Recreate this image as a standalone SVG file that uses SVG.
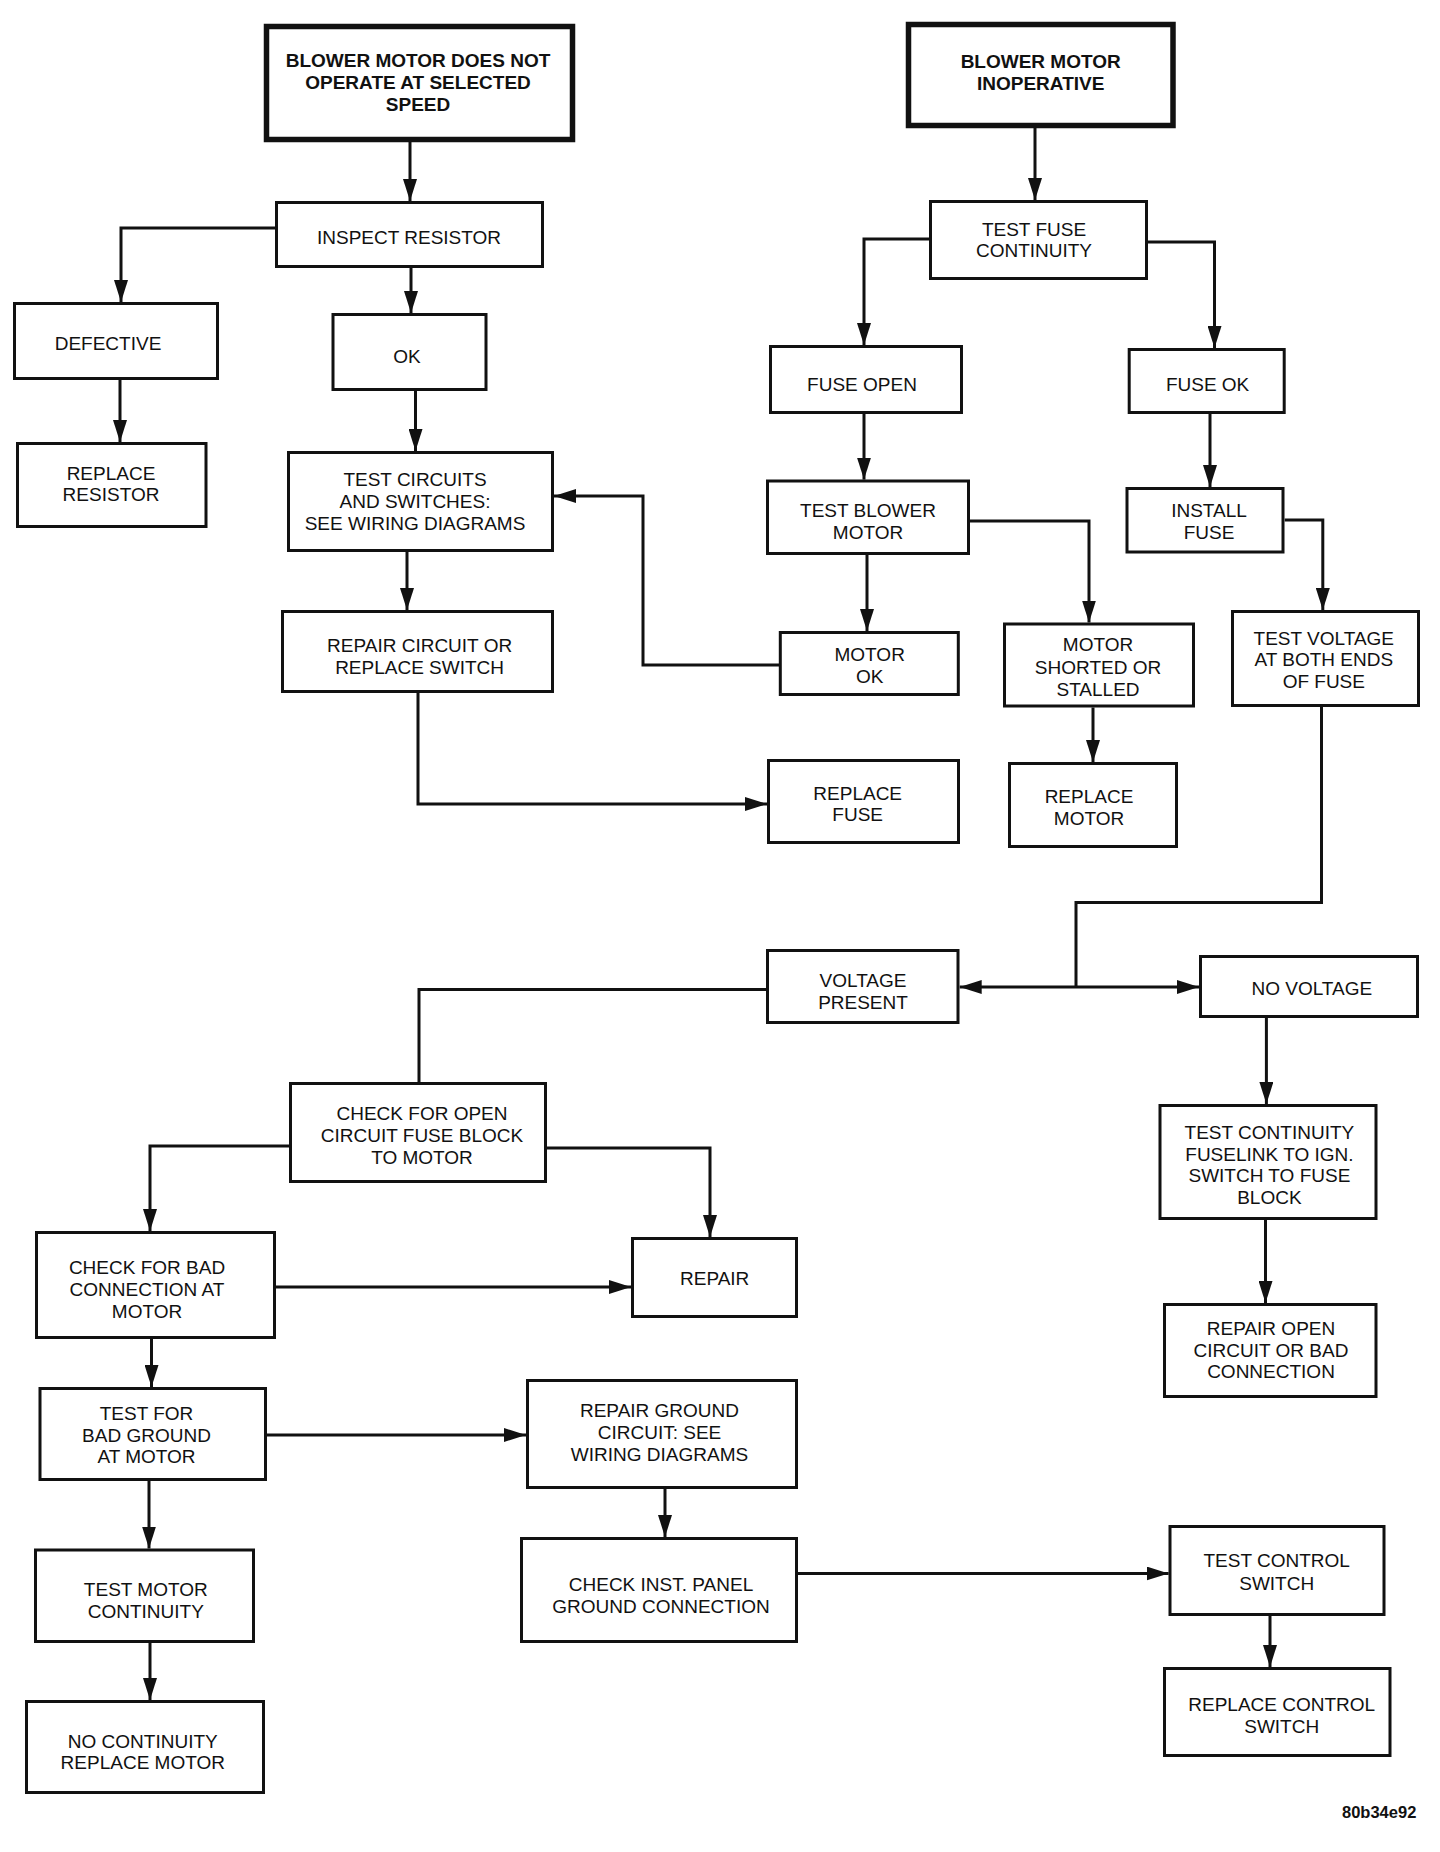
<svg xmlns="http://www.w3.org/2000/svg" width="1440" height="1852" viewBox="0 0 1440 1852">
<defs>
<style>
.box{fill:#fff;stroke:#111;stroke-width:3}
.thick{fill:#fff;stroke:#111;stroke-width:5.5}
text{font-family:"Liberation Sans",Arial,sans-serif;font-size:19px;fill:#111;text-anchor:middle}
.b{font-weight:bold}
.c{fill:none;stroke:#111;stroke-width:3}
.a{marker-end:url(#ah)}
</style>
<marker id="ah" markerUnits="userSpaceOnUse" markerWidth="24" markerHeight="14" refX="22" refY="7" orient="auto">
<path d="M0,0 L22,7 L0,14 z" fill="#111"/>
</marker>
</defs>
<rect width="1440" height="1852" fill="#fff"/>
<g id="connectors">
<path class="c a" d="M410,142 V201"/>
<path class="c a" d="M275,228 H121 V302"/>
<path class="c a" d="M411,268 V313"/>
<path class="c a" d="M120,380 V442"/>
<path class="c a" d="M415.5,391 V451"/>
<path class="c a" d="M407,552 V610"/>
<path class="c a" d="M779,665 H643 V496 H554"/>
<path class="c a" d="M418,693 V804 H767"/>
<path class="c a" d="M1035,128 V200"/>
<path class="c a" d="M929,239 H864 V345"/>
<path class="c a" d="M1148,242 H1214.5 V348"/>
<path class="c a" d="M864,414 V479.6"/>
<path class="c a" d="M1210,414 V487"/>
<path class="c a" d="M867,555 V631"/>
<path class="c a" d="M970,521 H1089 V622.5"/>
<path class="c a" d="M1284.7,520 H1322.8 V610"/>
<path class="c a" d="M1093,707.5 V762"/>
<path class="c" d="M1321.5,707 V902.5 H1076 V987"/>
<path class="c a" d="M1076,987 H959.7"/>
<path class="c a" d="M1076,987 H1199"/>
<path class="c" d="M766,989.5 H419 V1082"/>
<path class="c a" d="M289,1146 H150 V1231"/>
<path class="c a" d="M547,1148 H710 V1237"/>
<path class="c a" d="M276,1287 H631"/>
<path class="c a" d="M151.5,1339 V1387"/>
<path class="c a" d="M267,1435 H526"/>
<path class="c a" d="M149,1481 V1548.5"/>
<path class="c a" d="M150,1643 V1700"/>
<path class="c a" d="M665,1489 V1537"/>
<path class="c a" d="M798,1573.5 H1168.6"/>
<path class="c a" d="M1270,1616 V1667"/>
<path class="c a" d="M1266.4,1018 V1104"/>
<path class="c a" d="M1265.5,1220 V1303"/>
</g>
<g id="n_blower_speed"><rect class="thick" x="266.5" y="26.5" width="306" height="113"/>
<text class="b" x="418" y="67">BLOWER MOTOR DOES NOT</text><text class="b" x="418" y="89">OPERATE AT SELECTED</text><text class="b" x="418" y="110.7">SPEED</text></g>
<g id="n_blower_inop"><rect class="thick" x="908.5" y="24.5" width="264.5" height="101"/>
<text class="b" x="1040.7" y="68.4">BLOWER MOTOR</text><text class="b" x="1040.7" y="90">INOPERATIVE</text></g>
<g id="n_inspect"><rect class="box" x="276.5" y="202.5" width="266" height="64"/><text x="409" y="244">INSPECT RESISTOR</text></g>
<g id="n_defective"><rect class="box" x="14.5" y="303.5" width="203" height="75"/><text x="108" y="350">DEFECTIVE</text></g>
<g id="n_ok"><rect class="box" x="333" y="314.5" width="153" height="75"/><text x="407" y="363">OK</text></g>
<g id="n_replace_resistor"><rect class="box" x="17.5" y="443.5" width="188.5" height="83"/><text x="111" y="479.6">REPLACE</text><text x="111" y="501">RESISTOR</text></g>
<g id="n_test_circuits"><rect class="box" x="288.5" y="452.5" width="264" height="98"/><text x="415" y="486">TEST CIRCUITS</text><text x="415" y="508">AND SWITCHES:</text><text x="415" y="530">SEE WIRING DIAGRAMS</text></g>
<g id="n_repair_circuit"><rect class="box" x="282.5" y="611.5" width="270" height="80"/><text x="419.6" y="652">REPAIR CIRCUIT OR</text><text x="419.6" y="674">REPLACE SWITCH</text></g>
<g id="n_test_fuse"><rect class="box" x="930.5" y="201.5" width="216" height="77"/><text x="1034" y="236">TEST FUSE</text><text x="1034" y="257">CONTINUITY</text></g>
<g id="n_fuse_open"><rect class="box" x="770.5" y="346.5" width="191" height="66"/><text x="862" y="390.7">FUSE OPEN</text></g>
<g id="n_fuse_ok"><rect class="box" x="1129.2" y="349.5" width="155" height="63"/><text x="1207.6" y="390.7">FUSE OK</text></g>
<g id="n_test_blower"><rect class="box" x="767.5" y="481" width="201" height="72.5"/><text x="868" y="517">TEST BLOWER</text><text x="868" y="539">MOTOR</text></g>
<g id="n_install_fuse"><rect class="box" x="1127" y="488.5" width="156" height="63.5"/><text x="1209" y="517">INSTALL</text><text x="1209" y="539">FUSE</text></g>
<g id="n_motor_ok"><rect class="box" x="780.3" y="632.5" width="178" height="62"/><text x="869.7" y="661">MOTOR</text><text x="869.7" y="683">OK</text></g>
<g id="n_motor_shorted"><rect class="box" x="1004.5" y="624" width="189" height="82"/><text x="1098" y="651.4">MOTOR</text><text x="1098" y="674">SHORTED OR</text><text x="1098" y="695.7">STALLED</text></g>
<g id="n_test_voltage"><rect class="box" x="1232.5" y="611.5" width="186" height="94"/><text x="1323.8" y="644.7">TEST VOLTAGE</text><text x="1323.8" y="666.4">AT BOTH ENDS</text><text x="1323.8" y="687.8">OF FUSE</text></g>
<g id="n_replace_fuse"><rect class="box" x="768.5" y="760.5" width="190" height="82"/><text x="857.7" y="799.7">REPLACE</text><text x="857.7" y="821.4">FUSE</text></g>
<g id="n_replace_motor"><rect class="box" x="1009.5" y="763.5" width="167" height="83"/><text x="1089" y="802.8">REPLACE</text><text x="1089" y="824.6">MOTOR</text></g>
<g id="n_voltage_present"><rect class="box" x="767.5" y="950.5" width="190.5" height="72"/><text x="863" y="986.7">VOLTAGE</text><text x="863" y="1008.5">PRESENT</text></g>
<g id="n_no_voltage"><rect class="box" x="1200.5" y="956.5" width="217" height="60"/><text x="1311.8" y="995.4">NO VOLTAGE</text></g>
<g id="n_check_open"><rect class="box" x="290.5" y="1083.5" width="255" height="98"/><text x="422" y="1120">CHECK FOR OPEN</text><text x="422" y="1141.7">CIRCUIT FUSE BLOCK</text><text x="422" y="1163.5">TO MOTOR</text></g>
<g id="n_test_continuity"><rect class="box" x="1160" y="1105.5" width="216" height="113"/><text x="1269.4" y="1138.5">TEST CONTINUITY</text><text x="1269.4" y="1160.7">FUSELINK TO IGN.</text><text x="1269.4" y="1182.4">SWITCH TO FUSE</text><text x="1269.4" y="1204">BLOCK</text></g>
<g id="n_check_bad"><rect class="box" x="36.5" y="1232.5" width="238" height="105"/><text x="147" y="1273.6">CHECK FOR BAD</text><text x="147" y="1295.8">CONNECTION AT</text><text x="147" y="1318">MOTOR</text></g>
<g id="n_repair"><rect class="box" x="632.5" y="1238.5" width="164" height="78"/><text x="714.7" y="1285">REPAIR</text></g>
<g id="n_test_bad_ground"><rect class="box" x="40" y="1388.5" width="225.5" height="91"/><text x="146.5" y="1419.5">TEST FOR</text><text x="146.5" y="1441.7">BAD GROUND</text><text x="146.5" y="1463">AT MOTOR</text></g>
<g id="n_repair_ground"><rect class="box" x="527.5" y="1380.5" width="269" height="107"/><text x="659.5" y="1416.7">REPAIR GROUND</text><text x="659.5" y="1438.9">CIRCUIT: SEE</text><text x="659.5" y="1460.6">WIRING DIAGRAMS</text></g>
<g id="n_test_motor_cont"><rect class="box" x="35.5" y="1550" width="218" height="91.5"/><text x="145.8" y="1595.7">TEST MOTOR</text><text x="145.8" y="1617.8">CONTINUITY</text></g>
<g id="n_no_continuity"><rect class="box" x="26.5" y="1701.5" width="237" height="91"/><text x="142.8" y="1748">NO CONTINUITY</text><text x="142.8" y="1769">REPLACE MOTOR</text></g>
<g id="n_check_inst"><rect class="box" x="521.5" y="1538.5" width="275" height="103"/><text x="661" y="1590.8">CHECK INST. PANEL</text><text x="661" y="1613">GROUND CONNECTION</text></g>
<g id="n_repair_open"><rect class="box" x="1164.5" y="1304.5" width="211.5" height="92"/><text x="1271" y="1334.9">REPAIR OPEN</text><text x="1271" y="1357">CIRCUIT OR BAD</text><text x="1271" y="1378.4">CONNECTION</text></g>
<g id="n_test_control"><rect class="box" x="1170" y="1526.5" width="214" height="88"/><text x="1276.7" y="1567.4">TEST CONTROL</text><text x="1276.7" y="1589.6">SWITCH</text></g>
<g id="n_replace_control"><rect class="box" x="1164.5" y="1668.5" width="225.5" height="87"/><text x="1281.7" y="1711">REPLACE CONTROL</text><text x="1281.7" y="1732.7">SWITCH</text></g>
<text x="1342" y="1818" style="text-anchor:start;font-size:16.5px;font-weight:bold">80b34e92</text>
</svg>
